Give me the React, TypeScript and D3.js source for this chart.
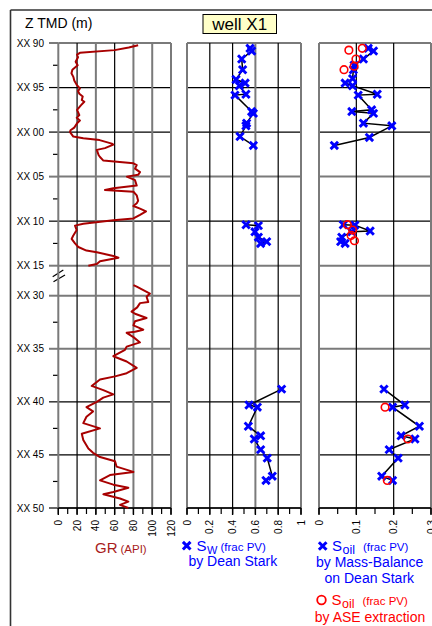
import React from "react";
import * as d3 from "d3";

// ---------- DATA ----------
const depthTicks = [90, 95, 100, 105, 110, 115, 130, 135, 140, 145, 150];
const depthMinor = [92.5, 97.5, 102.5, 107.5, 112.5, 132.5, 137.5, 142.5, 147.5];
const grTicks = [0, 20, 40, 60, 80, 100, 120];
const swTicks = [0, 0.2, 0.4, 0.6, 0.8, 1];
const soilTicks = [0, 0.1, 0.2, 0.3];

const grDepth1 = [90.26, 90.5, 90.8, 91.1, 91.3, 91.6, 92.1, 92.5, 93.0, 93.4, 93.8, 94.2, 94.7, 95.1, 95.4, 95.7, 96.0, 96.4, 96.6, 97.0, 97.5, 98.1, 98.4, 98.7, 99.0, 99.5, 99.8, 100.0, 100.5, 100.7, 100.9, 101.3, 101.4, 101.8, 102.0, 102.3, 102.6, 102.8, 103.2, 103.5, 103.7, 104.1, 104.5, 104.8, 105.0, 105.4, 106.0, 106.3, 106.5, 106.7, 107.1, 107.7, 108.0, 108.3, 108.6, 108.9, 109.3, 109.7, 109.9, 110.3, 110.5, 111.0, 111.6, 112.0, 112.5, 112.9, 113.3, 113.5, 113.9, 114.1, 114.5, 114.8, 115.0];
const grValue1 = [85, 75, 60, 23, 20, 21, 18.5, 20.6, 15, 14, 16, 17, 19.6, 23, 21, 22.4, 26, 25, 27.7, 24, 20, 22.4, 19.6, 23, 20, 17, 13, 12.5, 16, 26.6, 44, 57, 58.6, 49.7, 41, 42, 43, 44.4, 48, 80, 83.5, 81.7, 87, 85, 73, 81.7, 83.5, 58.6, 49.7, 80, 83.5, 85, 83.5, 80, 87, 93.4, 87, 80, 58.6, 26.6, 17.8, 19.6, 16, 14.2, 17.8, 21.3, 30, 41, 58.6, 64, 44.4, 41, 32];

const grDepth2 = [129.0, 129.15, 129.8, 130.1, 130.6, 130.7, 131.1, 131.5, 131.7, 132.1, 132.4, 132.8, 133.2, 133.4, 133.5, 133.9, 134.4, 134.8, 135.1, 135.7, 136.2, 136.8, 137.3, 137.6, 137.9, 138.5, 138.9, 139.3, 139.6, 140.0, 140.5, 140.9, 141.4, 142.0, 142.5, 143.0, 143.6, 144.4, 144.8, 145.2, 145.6, 146.1, 146.6, 146.9, 147.4, 147.8, 148.1, 148.5, 148.7, 149.1, 149.4, 149.7, 150.0];
const grValue2 = [80, 83.5, 97.6, 94, 95.8, 87, 84, 78, 81.7, 94, 81.7, 80, 90.5, 81.7, 72.8, 80, 87, 72.8, 71, 58.6, 72.8, 83.5, 72.8, 60.4, 44.4, 35.5, 47.9, 58.6, 47.9, 41, 30, 37, 30, 26.6, 44.4, 25, 26.6, 32, 37, 44.4, 60.4, 62, 80, 55, 44.4, 58.6, 74.6, 58.6, 48, 65.7, 74.6, 65.7, 74.6];

const swDepth1 = [90.6, 90.9, 91.8, 93.0, 94.1, 94.5, 94.8, 95.75, 95.85, 97.7, 97.9, 99.0, 99.3, 100.5, 101.5];
const swValue1 = [0.553, 0.567, 0.48, 0.488, 0.43, 0.51, 0.459, 0.517, 0.421, 0.567, 0.582, 0.523, 0.517, 0.465, 0.582];
const swDepth2 = [110.4, 110.5, 111.2, 111.8, 112.3, 112.5];
const swValue2 = [0.518, 0.626, 0.596, 0.626, 0.699, 0.646];
const swDepth3 = [138.8, 140.3, 140.5, 142.3, 143.2, 143.5, 144.5, 145.3, 147.0, 147.4];
const swValue3 = [0.83, 0.544, 0.617, 0.538, 0.646, 0.59, 0.646, 0.704, 0.748, 0.693];

const soilDepth1 = [90.6, 90.9, 91.8, 92.5, 93.0, 94.0, 94.5, 94.8, 95.75, 95.85, 97.5, 97.7, 97.9, 99.0, 99.3, 100.6, 101.5];
const soilValue1 = [0.132, 0.146, 0.119, 0.094, 0.092, 0.090, 0.070, 0.090, 0.156, 0.105, 0.141, 0.088, 0.146, 0.119, 0.195, 0.135, 0.041];
const soilDepth2 = [110.4, 110.45, 111.1, 111.2, 111.8, 112.3, 112.5];
const soilValue2 = [0.065, 0.096, 0.137, 0.088, 0.061, 0.058, 0.070];
const soilDepth3 = [138.8, 140.3, 140.5, 142.3, 143.2, 143.5, 144.5, 145.3, 147.0, 147.4];
const soilValue3 = [0.174, 0.230, 0.197, 0.269, 0.220, 0.257, 0.188, 0.212, 0.168, 0.197];

const aseDepth = [90.6, 90.8, 91.8, 92.6, 93.0, 110.4, 111.0, 111.6, 112.2, 140.5, 143.5, 147.4];
const aseValue = [0.116, 0.080, 0.099, 0.094, 0.067, 0.076, 0.090, 0.086, 0.095, 0.177, 0.238, 0.183];

// ---------- LAYOUT ----------
const W = 432, H = 626;
const FONT = "'Liberation Sans', Arial, sans-serif";
const BLUE = "#0000ff";
const RED = "#ff0000";
const GRC = "#a80000";

const y1 = d3.scaleLinear().domain([90, 115]).range([43, 265.7]);
const y2 = d3.scaleLinear().domain([130, 150]).range([295.7, 508]);
const yOf = (d: number) => (d <= 120 ? y1(d) : y2(d));

const xGR = d3.scaleLinear().domain([0, 120]).range([58.3, 171]);
const xSw = d3.scaleLinear().domain([0, 1]).range([187, 301]);
const xSo = d3.scaleLinear().domain([0, 0.3]).range([319, 431]);

const TOP = yOf(90), BOT = yOf(150);

const hStyle: Record<number, string> = { 90: "g", 95: "k", 100: "k", 105: "g", 110: "k", 115: "g", 130: "g", 135: "g", 140: "k", 145: "k", 150: "k" };
const vGR = ["g", "k", "g", "k", "g", "g", "g"];
const vSw = ["g", "k", "k", "g", "k", "g"];
const vSo = ["g", "k", "k", "g"];

const lineStyle = (s: string) => (s === "g" ? { stroke: "#7a7a7a", strokeWidth: 2 } : { stroke: "#000", strokeWidth: 1.2 });

function Track({ x, ticks, styles, minorStep, fmt }: any) {
  const [x0, x1] = x.range();
  const minors: number[] = [];
  const dom = x.domain();
  for (let v = dom[0]; v <= dom[1] + 1e-9; v += minorStep) minors.push(v);
  return (
    <g>
      {depthTicks.map((d) => (
        <line key={"h" + d} x1={x0} x2={x1} y1={yOf(d)} y2={yOf(d)} {...lineStyle(hStyle[d])} />
      ))}
      {ticks.map((t: number, i: number) => (
        <line key={"v" + t} x1={x(t)} x2={x(t)} y1={TOP} y2={BOT} {...lineStyle(styles[i])} />
      ))}
      <line x1={x0} x2={x1} y1={BOT} y2={BOT} stroke="#000" strokeWidth={1.4} />
      {minors.map((v, i) => (
        <line key={"m" + i} x1={x(v)} x2={x(v)} y1={BOT} y2={BOT + 6} stroke="#000" strokeWidth={1.2} />
      ))}
      {ticks.map((t: number) => (
        <line key={"t" + t} x1={x(t)} x2={x(t)} y1={BOT} y2={BOT + 7} stroke="#000" strokeWidth={1.4} />
      ))}
      {ticks.map((t: number) => (
        <text key={"l" + t} transform={`translate(${x(t)},${BOT + 12}) rotate(-90)`} textAnchor="end" dy="0.35em" fontSize={10} fontFamily={FONT} fill="#000">
          {fmt(t)}
        </text>
      ))}
    </g>
  );
}

const XMark = ({ cx, cy, s = 3.7, w = 2.9 }: any) => (
  <path d={`M${cx - s},${cy - s}L${cx + s},${cy + s}M${cx - s},${cy + s}L${cx + s},${cy - s}`} stroke={BLUE} strokeWidth={w} fill="none" />
);

export default function App() {
  const mk = (depths: number[], vals: number[], x: any) =>
    d3.line<number>().x((_, i) => x(vals[i])).y((d) => yOf(d))(depths) || "";

  const swGroups = [[swDepth1, swValue1], [swDepth2, swValue2], [swDepth3, swValue3]];
  const soGroups = [[soilDepth1, soilValue1], [soilDepth2, soilValue2], [soilDepth3, soilValue3]];

  return (
    <svg width={W} height={H} style={{ position: "absolute", left: 0, top: 0, background: "#fff" }}>
      <rect x={0} y={0} width={W} height={H} fill="#fff" />
      {/* frame */}
      <line x1={10.5} x2={W} y1={10} y2={10} stroke="#333" strokeWidth={1.6} />
      <line x1={10.5} x2={10.5} y1={10} y2={H} stroke="#333" strokeWidth={1.6} />

      <text x={25} y={28} fontSize={14} fontFamily={FONT} fill="#000">Z TMD (m)</text>
      <rect x={203} y={14.5} width={73.5} height={19} fill="#ffffc8" stroke="#000" strokeWidth={1} />
      <text x={239.7} y={30} textAnchor="middle" fontSize={17} fontFamily={FONT} fill="#000">well X1</text>

      {/* depth axis */}
      {depthTicks.map((d) => (
        <g key={"y" + d}>
          <line x1={49} x2={xGR(0)} y1={yOf(d)} y2={yOf(d)} {...lineStyle(hStyle[d])} />
          <text x={44} y={yOf(d)} dy="0.35em" textAnchor="end" fontSize={10} fontFamily={FONT} fill="#000">
            {"XX " + String(d % 100).padStart(2, "0")}
          </text>
        </g>
      ))}
      {depthMinor.map((d) => (
        <line key={"ym" + d} x1={53} x2={xGR(0)} y1={yOf(d)} y2={yOf(d)} stroke="#000" strokeWidth={1.2} />
      ))}
      <line x1={52.7} y1={276.7} x2={63.3} y2={270} stroke="#000" strokeWidth={1.2} />
      <line x1={53.5} y1={281.7} x2={65} y2={275} stroke="#000" strokeWidth={1.2} />

      <Track x={xGR} ticks={grTicks} styles={vGR} minorStep={10} fmt={(t: number) => String(t)} />
      <Track x={xSw} ticks={swTicks} styles={vSw} minorStep={0.1} fmt={(t: number) => (t === 0 || t === 1 ? String(t) : t.toFixed(1))} />
      <Track x={xSo} ticks={soilTicks} styles={vSo} minorStep={0.05} fmt={(t: number) => (t === 0 ? "0" : t.toFixed(1))} />

      {/* GR curve */}
      <path d={mk(grDepth1, grValue1, xGR)} fill="none" stroke={GRC} strokeWidth={2} strokeLinejoin="round" />
      <path d={mk(grDepth2, grValue2, xGR)} fill="none" stroke={GRC} strokeWidth={2} strokeLinejoin="round" />

      {/* Sw */}
      {swGroups.map(([dd, vv], gi) => (
        <path key={"swl" + gi} d={mk(dd, vv, xSw)} fill="none" stroke="#000" strokeWidth={1.5} />
      ))}
      {swGroups.map(([dd, vv], gi) =>
        dd.map((d, i) => <XMark key={"sw" + gi + "_" + i} cx={xSw(vv[i])} cy={yOf(d)} />)
      )}

      {/* Soil mass balance */}
      {soGroups.map(([dd, vv], gi) => (
        <path key={"sol" + gi} d={mk(dd, vv, xSo)} fill="none" stroke="#000" strokeWidth={1.5} />
      ))}
      {soGroups.map(([dd, vv], gi) =>
        dd.map((d, i) => <XMark key={"so" + gi + "_" + i} cx={xSo(vv[i])} cy={yOf(d)} />)
      )}
      {aseDepth.map((d, i) => (
        <circle key={"ase" + i} cx={xSo(aseValue[i])} cy={yOf(d)} r={3.8} fill="none" stroke={RED} strokeWidth={1.6} />
      ))}

      {/* legends */}
      <text x={95} y={553} fontFamily={FONT} fill="#a81c1c">
        <tspan fontSize={15}>GR</tspan>
        <tspan fontSize={11.5} dx={3}>(API)</tspan>
      </text>

      <XMark cx={186.7} cy={545.7} s={3.8} w={3} />
      <text fontFamily={FONT} fill={BLUE}>
        <tspan x={196.5} y={551} fontSize={15}>S</tspan>
        <tspan x={207} y={554} fontSize={11}>W</tspan>
        <tspan x={220.5} y={551} fontSize={11.5}>(frac PV)</tspan>
      </text>
      <text x={232.8} y={566} textAnchor="middle" fontFamily={FONT} fontSize={14} fill={BLUE}>by Dean Stark</text>

      <XMark cx={322.7} cy={546} s={3.8} w={3} />
      <text fontFamily={FONT} fill={BLUE}>
        <tspan x={332} y={551} fontSize={15}>S</tspan>
        <tspan x={342.5} y={554} fontSize={12.5}>oil</tspan>
        <tspan x={363} y={551} fontSize={11.5}>(frac PV)</tspan>
      </text>
      <text x={369.7} y={567} textAnchor="middle" fontFamily={FONT} fontSize={14} fill={BLUE}>by Mass-Balance</text>
      <text x={369.3} y={583} textAnchor="middle" fontFamily={FONT} fontSize={14} fill={BLUE}>on Dean Stark</text>

      <circle cx={321.5} cy={600} r={4.3} fill="none" stroke={RED} strokeWidth={1.8} />
      <text fontFamily={FONT} fill={RED}>
        <tspan x={331.5} y={605} fontSize={15}>S</tspan>
        <tspan x={342} y={608} fontSize={12.5}>oil</tspan>
        <tspan x={362.5} y={605} fontSize={11.5}>(frac PV)</tspan>
      </text>
      <text x={370} y={622} textAnchor="middle" fontFamily={FONT} fontSize={14} fill={RED}>by ASE extraction</text>
    </svg>
  );
}
